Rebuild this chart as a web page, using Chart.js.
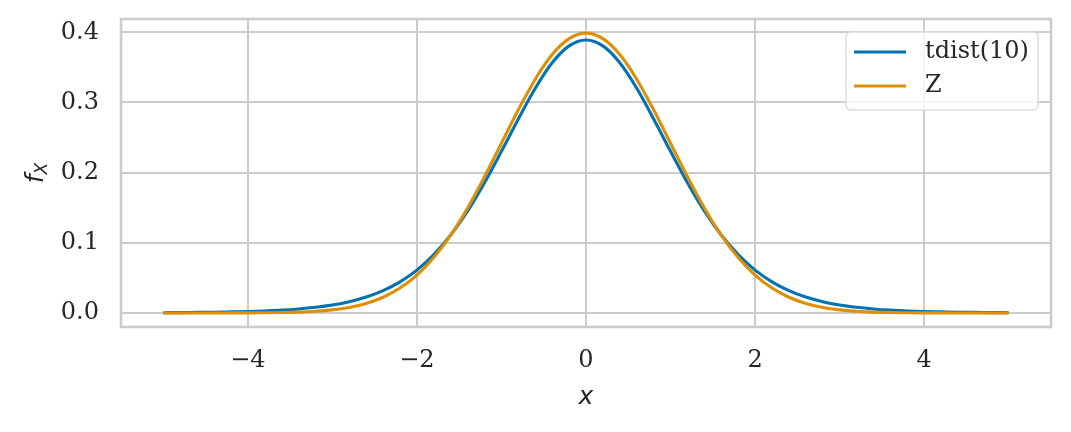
<!DOCTYPE html>
<html>
<head>
<meta charset="utf-8">
<script src="https://cdn.jsdelivr.net/npm/chart.js@4.4.1/dist/chart.umd.min.js"></script>
<style>
  body { margin: 0; background: #fff; }
  #wrap { width: 1071px; height: 432px; }
</style>
</head>
<body>
<div id="wrap"><canvas id="pdfChart" width="1071" height="432"></canvas></div>
<script>
// --- data ---
const xValues = [
  -5.0, -4.8, -4.6, -4.4, -4.2, -4.0, -3.8, -3.6, -3.4, -3.2,
  -3.0, -2.8, -2.6, -2.4, -2.2, -2.0, -1.8, -1.6, -1.4, -1.2,
  -1.0, -0.8, -0.6, -0.4, -0.2, 0.0, 0.2, 0.4, 0.6, 0.8,
  1.0, 1.2, 1.4, 1.6, 1.8, 2.0, 2.2, 2.4, 2.6, 2.8,
  3.0, 3.2, 3.4, 3.6, 3.8, 4.0, 4.2, 4.4, 4.6, 4.8, 5.0
];
const tdist10 = [
  0.0004, 0.0005, 0.0008, 0.0010, 0.0015, 0.0020, 0.0029, 0.0040, 0.0057, 0.0081,
  0.0114, 0.0161, 0.0227, 0.0319, 0.0444, 0.0611, 0.0831, 0.1111, 0.1454, 0.1857,
  0.2304, 0.2766, 0.3203, 0.3566, 0.3807, 0.3891, 0.3807, 0.3566, 0.3203, 0.2766,
  0.2304, 0.1857, 0.1454, 0.1111, 0.0831, 0.0611, 0.0444, 0.0319, 0.0227, 0.0161,
  0.0114, 0.0081, 0.0057, 0.0040, 0.0029, 0.0020, 0.0015, 0.0010, 0.0008, 0.0005, 0.0004
];
const zNormal = [
  0.0000, 0.0000, 0.0000, 0.0000, 0.0001, 0.0001, 0.0003, 0.0006, 0.0012, 0.0024,
  0.0044, 0.0079, 0.0136, 0.0224, 0.0355, 0.0540, 0.0790, 0.1109, 0.1497, 0.1942,
  0.2420, 0.2897, 0.3332, 0.3683, 0.3910, 0.3989, 0.3910, 0.3683, 0.3332, 0.2897,
  0.2420, 0.1942, 0.1497, 0.1109, 0.0790, 0.0540, 0.0355, 0.0224, 0.0136, 0.0079,
  0.0044, 0.0024, 0.0012, 0.0006, 0.0003, 0.0001, 0.0001, 0.0000, 0.0000, 0.0000, 0.0000
];
const xTicks = [-4, -2, 0, 2, 4];
const yTicks = [0.0, 0.1, 0.2, 0.3, 0.4];
const seriesNames = ['tdist(10)', 'Z'];

const BLUE = '#0173b2';
const ORANGE = '#de8f05';
const GRID = '#cccccc';
const TEXT = '#262626';

Chart.defaults.font.family = "'DejaVu Serif', serif";
Chart.defaults.font.size = 24;
Chart.defaults.color = TEXT;

function toPoints(ys) {
  return xValues.map((x, i) => ({ x: x, y: ys[i] }));
}

// frame, axis labels and legend drawn on top of the chart area
const decorations = {
  id: 'decorations',
  beforeDatasetsDraw(chart) {
    const { ctx, chartArea: a } = chart;
    ctx.save();
    ctx.strokeStyle = GRID;
    ctx.lineWidth = 2.6;
    ctx.strokeRect(a.left, a.top, a.right - a.left, a.bottom - a.top);
    ctx.restore();
  },
  afterDraw(chart) {
    const { ctx, chartArea: a } = chart;
    ctx.save();
    ctx.fillStyle = TEXT;

    // x label
    ctx.font = "italic 25px 'DejaVu Sans'";
    ctx.textAlign = 'center';
    ctx.textBaseline = 'middle';
    ctx.fillText('x', (a.left + a.right) / 2, 397);

    // y label f_X
    ctx.save();
    ctx.translate(35, (a.top + a.bottom) / 2);
    ctx.rotate(-Math.PI / 2);
    ctx.textAlign = 'left';
    ctx.textBaseline = 'alphabetic';
    ctx.font = "italic 25px 'DejaVu Sans'";
    const fw = ctx.measureText('f').width;
    ctx.font = "italic 17px 'DejaVu Sans'";
    const sw = ctx.measureText('X').width;
    const start = -(fw + sw) / 2;
    ctx.font = "italic 25px 'DejaVu Sans'";
    ctx.fillText('f', start, 8);
    ctx.font = "italic 17px 'DejaVu Sans'";
    ctx.fillText('X', start + fw, 12);
    ctx.restore();

    // legend
    const bx = 846, by = 32, bw = 192, bh = 78;
    ctx.beginPath();
    ctx.roundRect(bx, by, bw, bh, 5);
    ctx.fillStyle = 'rgba(255,255,255,0.8)';
    ctx.fill();
    ctx.strokeStyle = '#dddddd';
    ctx.lineWidth = 1.5;
    ctx.stroke();

    const rows = [52, 86];
    chart.data.datasets.forEach((ds, i) => {
      ctx.beginPath();
      ctx.strokeStyle = ds.borderColor;
      ctx.lineWidth = ds.borderWidth;
      ctx.moveTo(854, rows[i]);
      ctx.lineTo(906, rows[i]);
      ctx.stroke();
      ctx.fillStyle = TEXT;
      ctx.font = "24px 'DejaVu Serif'";
      ctx.textAlign = 'left';
      ctx.textBaseline = 'middle';
      ctx.fillText(ds.label, 925, rows[i]);
    });
    ctx.restore();
  }
};

const minusFmt = v => (v < 0 ? '\u2212' + Math.abs(v) : String(v));

new Chart(document.getElementById('pdfChart'), {
  type: 'line',
  data: {
    datasets: [
      {
        label: seriesNames[0],
        data: toPoints(tdist10),
        borderColor: BLUE,
        borderWidth: 3.1,
        pointRadius: 0,
        tension: 0.4,
        cubicInterpolationMode: 'monotone',
        order: 1
      },
      {
        label: seriesNames[1],
        data: toPoints(zNormal),
        borderColor: ORANGE,
        borderWidth: 3.1,
        pointRadius: 0,
        tension: 0.4,
        cubicInterpolationMode: 'monotone',
        order: 0
      }
    ]
  },
  options: {
    responsive: false,
    animation: false,
    layout: { padding: { left: 0, right: 20, top: 19, bottom: 0 } },
    plugins: { legend: { display: false }, tooltip: { enabled: false } },
    scales: {
      x: {
        type: 'linear',
        min: -5.5,
        max: 5.5,
        afterBuildTicks: s => { s.ticks = xTicks.map(v => ({ value: v })); },
        afterFit: s => { s.height = 105; s.paddingLeft = 0; s.paddingRight = 0; },
        ticks: { padding: 19, callback: minusFmt, maxRotation: 0 },
        grid: { color: GRID, lineWidth: 2, drawTicks: false },
        border: { display: false }
      },
      y: {
        type: 'linear',
        min: -0.02,
        max: 0.419,
        afterBuildTicks: s => { s.ticks = yTicks.map(v => ({ value: v })); },
        afterFit: s => { s.width = 121; s.paddingTop = 0; s.paddingBottom = 0; },
        ticks: { padding: 22, callback: v => v.toFixed(1) },
        grid: { color: GRID, lineWidth: 2, drawTicks: false },
        border: { display: false }
      }
    }
  },
  plugins: [decorations]
});
</script>
</body>
</html>
